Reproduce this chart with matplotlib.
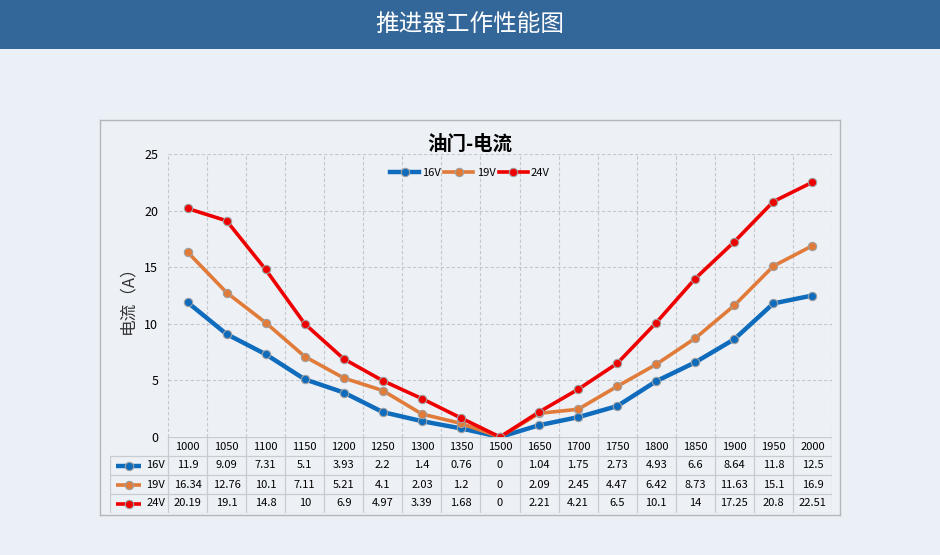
import matplotlib.pyplot as plt

plt.rcParams['font.family'] = ['Noto Sans CJK SC', 'DejaVu Sans']

throttle = ['1000', '1050', '1100', '1150', '1200', '1250', '1300', '1350', '1500',
            '1650', '1700', '1750', '1800', '1850', '1900', '1950', '2000']
cur_16v = [11.9, 9.09, 7.31, 5.1, 3.93, 2.2, 1.4, 0.76, 0, 1.04, 1.75, 2.73, 4.93, 6.6, 8.64, 11.8, 12.5]
cur_19v = [16.34, 12.76, 10.1, 7.11, 5.21, 4.1, 2.03, 1.2, 0, 2.09, 2.45, 4.47, 6.42, 8.73, 11.63, 15.1, 16.9]
cur_24v = [20.19, 19.1, 14.8, 10, 6.9, 4.97, 3.39, 1.68, 0, 2.21, 4.21, 6.5, 10.1, 14, 17.25, 20.8, 22.51]
series = [('16V', cur_16v, '#0f6cbd', 3.2), ('19V', cur_19v, '#e07b39', 2.6), ('24V', cur_24v, '#ee0000', 2.6)]

W, H = 940, 555
bg = '#ebf0f6'
grid_c = '#c4c8cc'

fig = plt.figure(figsize=(W / 100, H / 100), dpi=100)
fig.patch.set_facecolor(bg)


def box(x0, y0, x1, y1):
    # pixel box (top-left origin) -> figure fraction rect
    return [x0 / W, 1 - y1 / H, (x1 - x0) / W, (y1 - y0) / H]


# header band
hdr = fig.add_axes(box(0, 0, W, 49))
hdr.set_facecolor('#336699')
hdr.set_xticks([])
hdr.set_yticks([])
for s in hdr.spines.values():
    s.set_visible(False)
hdr.text(0.5, 0.5, '推进器工作性能图', color='white', fontsize=17, ha='center', va='center')

# chart frame
frame = fig.add_axes(box(100, 120, 840, 515))
frame.set_facecolor('#edf1f6')
frame.set_xticks([])
frame.set_yticks([])
for s in frame.spines.values():
    s.set_color('#b4b8bc')
    s.set_linewidth(1)

# plot area
ax = fig.add_axes(box(168, 154, 832, 437))
ax.patch.set_alpha(0)
n = len(throttle)
x = list(range(n))
ax.set_xlim(-0.5, n - 0.5)
ax.set_ylim(0, 25)
ax.set_yticks([0, 5, 10, 15, 20, 25])
ax.set_yticklabels(['0', '5', '10', '15', '20', '25'], fontsize=9)
ax.set_xticks([])
for xv in range(n + 1):
    ax.axvline(xv - 0.5, color=grid_c, lw=0.8, ls=(0, (3, 2)), zorder=0)
for yv in [5, 10, 15, 20, 25]:
    ax.axhline(yv, color=grid_c, lw=0.8, ls=(0, (3, 2)), zorder=0)
for s in ax.spines.values():
    s.set_visible(False)
ax.tick_params(axis='y', length=0, pad=7)

for name, vals, col, lw in series:
    ax.plot(x, vals, color=col, lw=lw, marker='o', ms=6, mfc=col, mec='#a0a0a0', mew=0.8, label=name)

ax.set_ylabel('电流（A）', fontsize=12, color='#333333', labelpad=6)
ctr = (470 - 168) / (832 - 168)
ax.set_title('油门-电流', fontsize=14, fontweight='bold', pad=2, x=ctr)
leg = ax.legend(loc='upper center', bbox_to_anchor=(ctr, 0.985), ncol=3, frameon=False, fontsize=8,
                handlelength=2.6, columnspacing=0.3, handletextpad=0.3)

# data table under the plot
cell = (832 - 168) / n
lw_px = 58 / cell
tab = fig.add_axes(box(110, 437, 832, 513))
tab.patch.set_alpha(0)
tab.set_xlim(-0.5 - lw_px, n - 0.5)
tab.set_ylim(4, 0)
tab.axis('off')
tc = '#c8ccd0'
# horizontal lines
tab.plot([-0.5, n - 0.5], [0, 0], color=tc, lw=0.9)
for r in [1, 2, 3, 4]:
    tab.plot([-0.5 - lw_px, n - 0.5], [r, r], color=tc, lw=0.9)
# vertical lines
tab.plot([-0.5 - lw_px, -0.5 - lw_px], [1, 4], color=tc, lw=0.9)
for xv in range(n + 1):
    tab.plot([xv - 0.5, xv - 0.5], [0, 4], color=tc, lw=0.9)
for i, lab in enumerate(throttle):
    tab.text(i, 0.5, lab, ha='center', va='center', fontsize=8)
for r, (name, vals, col, lw) in enumerate(series, start=1):
    for i, v in enumerate(vals):
        tab.text(i, r + 0.5, f'{v:g}', ha='center', va='center', fontsize=8)
    x0 = -0.5 - lw_px + 6 / cell
    x1 = x0 + 25 / cell
    tab.plot([x0, x1], [r + 0.5, r + 0.5], color=col, lw=lw, solid_capstyle='butt')
    tab.plot([(x0 + x1) / 2], [r + 0.5], marker='o', ms=6, color=col, mec='#a0a0a0', mew=0.8)
    tab.text(-0.5 - 3 / cell, r + 0.5, name, ha='right', va='center', fontsize=8)

fig.savefig('out.png', dpi=100, facecolor=bg)
